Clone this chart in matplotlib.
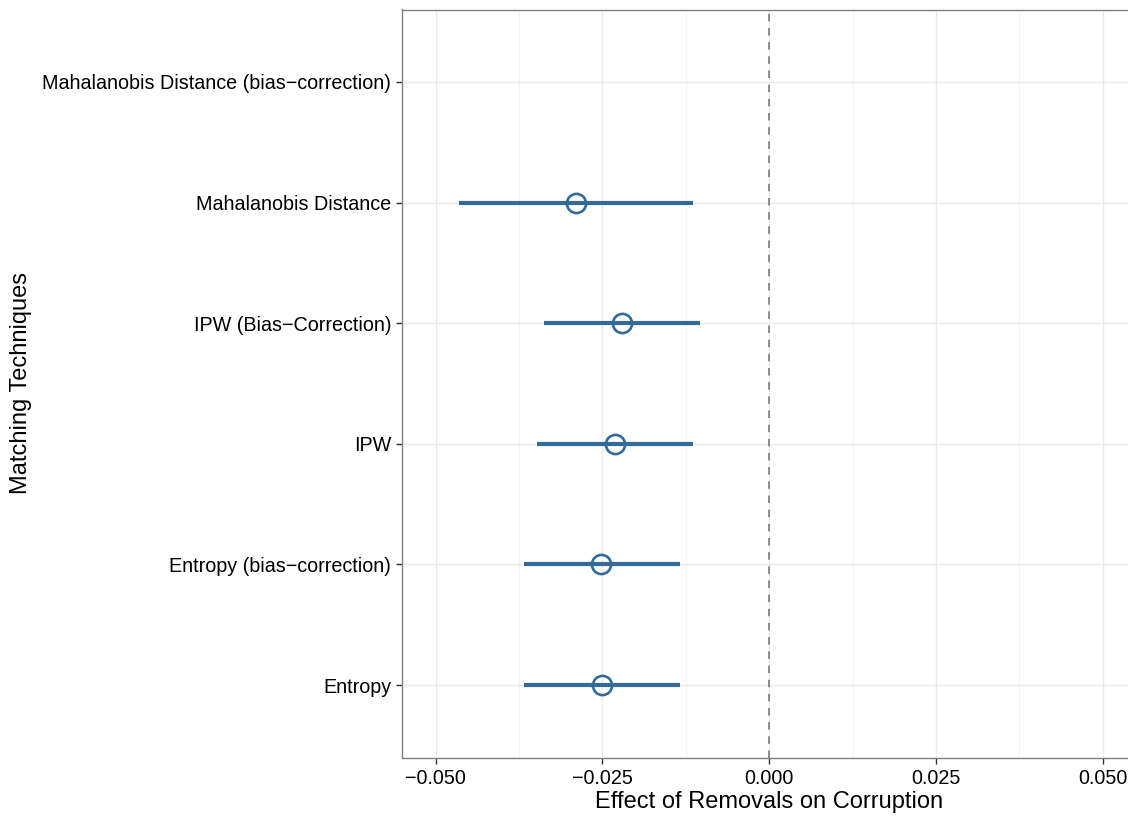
import numpy as np
import matplotlib
matplotlib.use("Agg")
import matplotlib.pyplot as plt
from matplotlib.ticker import MultipleLocator

plt.rcParams['font.family'] = ['Liberation Sans', 'DejaVu Sans']

techniques = [
    "Entropy",
    "Entropy (bias\u2212correction)",
    "IPW",
    "IPW (Bias\u2212Correction)",
    "Mahalanobis Distance",
    "Mahalanobis Distance (bias\u2212correction)",
]
estimate = [-0.0251, -0.0252, -0.0231, -0.0221, -0.0290, np.nan]
ci_low = [-0.0367, -0.0367, -0.0348, -0.0337, -0.0465, np.nan]
ci_high = [-0.0133, -0.0133, -0.0114, -0.0103, -0.0114, np.nan]
xticks = [-0.050, -0.025, 0.000, 0.025, 0.050]

color = "#336A98"

fig = plt.figure(figsize=(11.28, 8.16), dpi=100)
ax_w = (1136 - 402.3) / 1128
ax = fig.add_axes([402.3 / 1128, 58.5 / 816, ax_w, 748 / 816])

y = np.arange(1, len(techniques) + 1)
est = np.array(estimate)
lo = np.array(ci_low)
hi = np.array(ci_high)
ok = ~np.isnan(est)

ax.hlines(y[ok], lo[ok], hi[ok], color=color, linewidth=3.0, zorder=3)
ax.plot(est[ok], y[ok], linestyle="none", marker="o", markersize=13.8,
        markerfacecolor="none", markeredgecolor=color, markeredgewidth=1.9,
        zorder=4)
ax.axvline(0, color="#7a7a7a", linestyle=(0, (4.5, 4)), linewidth=1.2, zorder=2)

ax.set_xlim(-0.055, 0.055)
ax.set_ylim(0.4, len(techniques) + 0.6)
ax.set_xticks(xticks)
ax.set_xticklabels([f"{t:.3f}".replace("-", "\u2212") for t in xticks])
ax.xaxis.set_minor_locator(MultipleLocator(0.0125))
ax.set_yticks(y)
ax.set_yticklabels(techniques)

ax.grid(True, which="major", color="#EBEBEB", linewidth=1.0, zorder=0)
ax.grid(True, which="minor", axis="x", color="#F4F4F4", linewidth=0.8, zorder=0)
ax.set_axisbelow(True)

for s in ax.spines.values():
    s.set_color("#7F7F7F")
    s.set_linewidth(1.0)

ax.tick_params(axis="both", which="major", length=4.5, width=1.0, color="#333333",
               labelsize=14.2, labelcolor="black", pad=3.5)
ax.tick_params(axis="x", which="major", pad=4)
ax.tick_params(axis="x", which="minor", length=0)

ax.set_xlabel("Effect of Removals on Corruption", fontsize=17, labelpad=2)
ax.set_ylabel("Matching Techniques", fontsize=17)
ax.yaxis.set_label_coords((32 - 402.3) / (ax_w * 1128), 0.5)

fig.savefig("out.png", dpi=100)
